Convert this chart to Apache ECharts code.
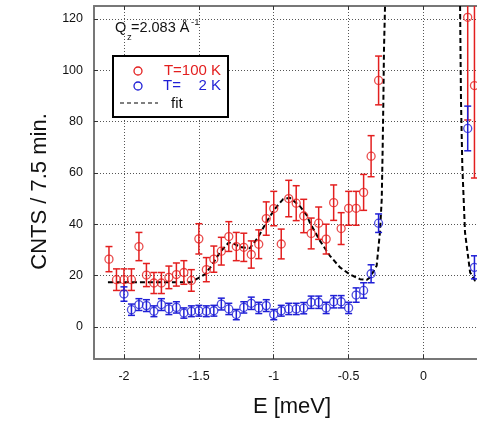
<!DOCTYPE html>
<html>
<head>
<meta charset="utf-8">
<script src="https://cdn.jsdelivr.net/npm/echarts@6/dist/echarts.min.js"></script>
<style>html,body{margin:0;padding:0;background:#fff}#c{width:477px;height:423px}</style>
</head>
<body>
<div id="c"></div>
<script>
var xTicks = [-2, -1.5, -1, -0.5, 0];
var yTicks = [0, 20, 40, 60, 80, 100, 120];

var redE = [-2.10,-2.05,-2.00,-1.95,-1.90,-1.85,-1.80,-1.75,-1.70,-1.65,-1.60,-1.55,-1.50,-1.45,-1.40,-1.35,-1.30,-1.25,-1.20,-1.15,-1.10,-1.05,-1.00,-0.95,-0.90,-0.85,-0.80,-0.75,-0.70,-0.65,-0.60,-0.55,-0.50,-0.45,-0.40,-0.35,-0.30,0.295,0.34];
var redCnt = [26.4,18.4,18.4,18.4,31.3,20.2,17.1,17.1,19.3,20.4,21.2,18.1,34.3,22.3,26.4,29.5,35.2,31.3,31.0,28.2,32.2,42.2,46.1,32.3,50.0,48.2,43.2,36.4,40.4,34.2,48.4,38.3,46.2,46.2,52.4,66.5,96.0,120.6,94.0];
var redErr = [4.9,4.2,4.2,4.2,5.5,4.5,4.1,4.1,4.4,4.5,4.6,4.2,5.9,4.7,5.1,5.4,5.8,5.5,5.5,5.3,5.6,6.5,6.7,5.8,7.1,6.8,6.5,6.0,6.3,5.8,6.9,6.2,6.6,6.6,7.0,8.0,9.5,40,36];

var blueE = [-2.00,-1.95,-1.90,-1.85,-1.80,-1.75,-1.70,-1.65,-1.60,-1.55,-1.50,-1.45,-1.40,-1.35,-1.30,-1.25,-1.20,-1.15,-1.10,-1.05,-1.00,-0.95,-0.90,-0.85,-0.80,-0.75,-0.70,-0.65,-0.60,-0.55,-0.50,-0.45,-0.40,-0.35,-0.30,0.295,0.34];
var blueCnt = [12.8,6.7,8.7,8.3,6.1,8.7,7.0,7.6,5.4,6.1,6.3,6.1,6.3,8.9,7.0,4.8,7.6,9.2,7.4,8.3,4.8,6.3,7.0,7.0,7.3,9.6,9.6,7.4,9.8,9.8,7.4,12.4,14.2,20.7,40.4,77.3,23.2];
var blueErr = [2.8,2.2,2.3,2.3,2.1,2.3,2.2,2.2,2.0,2.1,2.1,2.1,2.1,2.3,2.2,2.0,2.2,2.4,2.2,2.3,2.0,2.1,2.2,2.2,2.2,2.4,2.4,2.2,2.4,2.4,2.2,2.8,3.0,3.5,3.6,8.7,4.5];

var fitLeftE = [-2.107,-1.55,-1.52,-1.49,-1.46,-1.415,-1.36,-1.30,-1.27,-1.215,-1.16,-1.104,-1.047,-0.992,-0.937,-0.892,-0.825,-0.78,-0.758,-0.691,-0.625,-0.558,-0.491,-0.424,-0.38,-0.357,-0.313,-0.291,-0.279,-0.273,-0.268,-0.264,-0.257];
var fitLeftCnt = [17.4,17.4,18.5,19.4,20.5,23.8,29.0,32.9,32.5,31.0,30.6,35.0,41.0,46.0,49.8,50.3,47.0,43.5,40.5,33.5,27.7,23.2,20.4,18.6,18.3,19.3,23.8,36.8,49.7,69,88.5,108,125];
var fitRightE = [0.244,0.250,0.259,0.277,0.311,0.344,0.36];
var fitRightCnt = [125,88.5,62.6,36.8,21.2,18.0,17.5];

var RED = '#e31f1f', BLUE = '#1f1fd6';
var FONT = 'Liberation Sans, Arial, sans-serif';

function zip3(a, b, c) { return a.map(function (v, i) { return [v, b[i], c[i]]; }); }
function zip2(a, b) { return a.map(function (v, i) { return [v, b[i]]; }); }

function errRender(color) {
  return function (params, api) {
    var x = api.value(0), y = api.value(1), e = api.value(2);
    var p1 = api.coord([x, y + e]), p2 = api.coord([x, y - e]);
    var w = 3.5;
    var st = { stroke: color, lineWidth: 1.5, fill: null };
    return {
      type: 'group',
      children: [
        { type: 'line', shape: { x1: p1[0], y1: p1[1], x2: p2[0], y2: p2[1] }, style: st },
        { type: 'line', shape: { x1: p1[0] - w, y1: p1[1], x2: p1[0] + w, y2: p1[1] }, style: st },
        { type: 'line', shape: { x1: p2[0] - w, y1: p2[1], x2: p2[0] + w, y2: p2[1] }, style: st }
      ]
    };
  };
}

var chart = echarts.init(document.getElementById('c'), null, { renderer: 'canvas' });
var gridLine = { show: true, lineStyle: { type: [1, 2], color: '#555', width: 1 } };
var XMIN = -2.2, XMAX = 0.357;
chart.setOption({
  animation: false,
  backgroundColor: '#fff',
  grid: { left: 94, right: 0, top: 6, bottom: 63, show: false },
  xAxis: [{
    type: 'value', min: XMIN, max: XMAX, position: 'bottom',
    axisLine: { show: true, onZero: false, lineStyle: { color: '#777', width: 2 } },
    axisTick: { show: true, inside: true, length: 4, customValues: xTicks, lineStyle: { color: '#333' } },
    axisLabel: { customValues: xTicks, margin: 11, fontSize: 12.5, color: '#111', fontFamily: FONT },
    splitLine: gridLine,
    name: 'E [meV]', nameLocation: 'middle', nameGap: 37,
    nameTextStyle: { fontSize: 22, color: '#111', fontFamily: FONT, padding: [0, 0, 0, 13] }
  }, {
    type: 'value', min: XMIN, max: XMAX, position: 'top',
    axisLine: { show: true, onZero: false, lineStyle: { color: '#777', width: 2 } },
    axisTick: { show: true, inside: true, length: 4, customValues: xTicks, lineStyle: { color: '#333' } },
    axisLabel: { show: false },
    splitLine: { show: false }
  }],
  yAxis: {
    type: 'value', min: -12.5, max: 125,
    axisLine: { show: true, onZero: false, lineStyle: { color: '#777', width: 2 } },
    axisTick: { show: true, inside: true, length: 4, customValues: yTicks, lineStyle: { color: '#333' } },
    axisLabel: { customValues: yTicks, margin: 11, fontSize: 12.5, color: '#111', fontFamily: FONT },
    splitLine: gridLine,
    name: 'CNTS / 7.5 min.', nameLocation: 'middle', nameGap: 43,
    nameTextStyle: { fontSize: 22, color: '#111', fontFamily: FONT, padding: [0, 18, 0, 0] }
  },
  series: [
    { type: 'line', name: 'fit', data: zip2(fitLeftE, fitLeftCnt), showSymbol: false, symbol: 'none', clip: true,
      lineStyle: { color: '#000', width: 2, type: [5, 3] }, z: 2 },
    { type: 'line', name: 'fit2', data: zip2(fitRightE, fitRightCnt), showSymbol: false, symbol: 'none', clip: true,
      lineStyle: { color: '#000', width: 2, type: [5, 3] }, z: 2 },
    { type: 'custom', name: 'redErr', data: zip3(redE, redCnt, redErr), encode: { x: 0, y: 1 }, clip: true,
      renderItem: errRender(RED), z: 3 },
    { type: 'custom', name: 'blueErr', data: zip3(blueE, blueCnt, blueErr), encode: { x: 0, y: 1 }, clip: true,
      renderItem: errRender(BLUE), z: 3 },
    { type: 'scatter', name: 'T=100 K', data: zip2(redE, redCnt), symbol: 'circle', symbolSize: 8, clip: true,
      itemStyle: { color: 'rgba(0,0,0,0)', borderColor: RED, borderWidth: 1.3 }, z: 4 },
    { type: 'scatter', name: 'T=2 K', data: zip2(blueE, blueCnt), symbol: 'circle', symbolSize: 8, clip: true,
      itemStyle: { color: 'rgba(0,0,0,0)', borderColor: BLUE, borderWidth: 1.3 }, z: 4 }
  ],
  graphic: [
    { type: 'text', left: 115, top: 20, style: { text: 'Q', fontSize: 14.5, fontFamily: FONT, fill: '#111' } },
    { type: 'text', left: 127, top: 32, style: { text: 'z', fontSize: 9.5, fontFamily: FONT, fill: '#111' } },
    { type: 'text', left: 131, top: 20, style: { text: '=2.083 Å', fontSize: 14.5, fontFamily: FONT, fill: '#111' } },
    { type: 'text', left: 191, top: 17, style: { text: '-1', fontSize: 9.5, fontFamily: FONT, fill: '#111' } },
    { type: 'rect', shape: { x: 113, y: 56, width: 115, height: 61 }, style: { fill: '#fff', stroke: '#000', lineWidth: 2 }, z: 10 },
    { type: 'circle', shape: { cx: 138, cy: 71, r: 4 }, style: { fill: null, stroke: RED, lineWidth: 1.3 }, z: 11 },
    { type: 'circle', shape: { cx: 138, cy: 86, r: 4 }, style: { fill: null, stroke: BLUE, lineWidth: 1.3 }, z: 11 },
    { type: 'line', shape: { x1: 120, y1: 103, x2: 158, y2: 103 }, style: { stroke: '#000', lineWidth: 1.2, lineDash: [4, 3] }, z: 11 },
    { type: 'text', x: 221, y: 71, style: { text: 'T=100 K', fontSize: 15, fontFamily: FONT, fill: RED, align: 'right', verticalAlign: 'middle' }, z: 11 },
    { type: 'text', x: 163, y: 86, style: { text: 'T=', fontSize: 15, fontFamily: FONT, fill: BLUE, align: 'left', verticalAlign: 'middle' }, z: 11 },
    { type: 'text', x: 221, y: 86, style: { text: '2 K', fontSize: 15, fontFamily: FONT, fill: BLUE, align: 'right', verticalAlign: 'middle' }, z: 11 },
    { type: 'text', x: 171, y: 104, style: { text: 'fit', fontSize: 15, fontFamily: FONT, fill: '#111', align: 'left', verticalAlign: 'middle' }, z: 11 }
  ]
});
</script>
</body>
</html>
